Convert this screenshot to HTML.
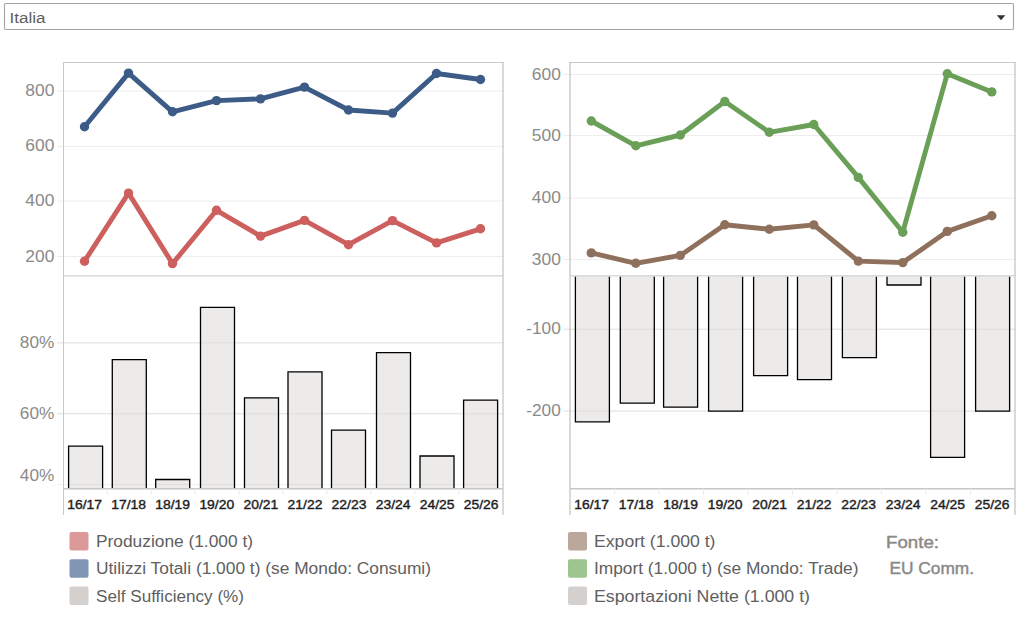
<!DOCTYPE html>
<html><head><meta charset="utf-8"><style>
html,body{margin:0;padding:0;background:#fff;width:1024px;height:617px;overflow:hidden}
svg{position:absolute;left:0;top:0}
text{font-family:"Liberation Sans", sans-serif}
.ax{font-size:17.4px;fill:#8a8a8a}
.xl{font-size:13px;fill:#1e1e1e;stroke:#1e1e1e;stroke-width:0.4px}
.lg{font-size:16px;fill:#606060}
.fo{font-size:17px;fill:#8a8a8a;stroke:#8a8a8a;stroke-width:0.45px}
.dd{font-size:14px;fill:#606060}
</style></head><body>
<svg width="1024" height="617" viewBox="0 0 1024 617">
<rect x="4.5" y="3.5" width="1009" height="26" rx="1.2" fill="#fff" stroke="#a4a4a4" stroke-width="1.1"/>
<text x="9.5" y="22.7" textLength="36" lengthAdjust="spacingAndGlyphs" class="dd">Italia</text>
<path d="M996.8 15.2 L1005.3 15.2 L1001.05 20.3 Z" fill="#333"/>
<line x1="57" y1="91" x2="503.0" y2="91" stroke="#ececec" stroke-width="1"/>
<line x1="57" y1="146.4" x2="503.0" y2="146.4" stroke="#ececec" stroke-width="1"/>
<line x1="57" y1="201.1" x2="503.0" y2="201.1" stroke="#ececec" stroke-width="1"/>
<line x1="57" y1="256.6" x2="503.0" y2="256.6" stroke="#ececec" stroke-width="1"/>
<line x1="57" y1="342.9" x2="503.0" y2="342.9" stroke="#ececec" stroke-width="1"/>
<line x1="57" y1="413.8" x2="503.0" y2="413.8" stroke="#ececec" stroke-width="1"/>
<line x1="564" y1="74.5" x2="1015.0" y2="74.5" stroke="#ececec" stroke-width="1"/>
<line x1="564" y1="135.6" x2="1015.0" y2="135.6" stroke="#ececec" stroke-width="1"/>
<line x1="564" y1="198.0" x2="1015.0" y2="198.0" stroke="#ececec" stroke-width="1"/>
<line x1="564" y1="259.5" x2="1015.0" y2="259.5" stroke="#ececec" stroke-width="1"/>
<line x1="564" y1="329.2" x2="1015.0" y2="329.2" stroke="#ececec" stroke-width="1"/>
<line x1="564" y1="411.1" x2="1015.0" y2="411.1" stroke="#ececec" stroke-width="1"/>
<rect x="68.60" y="446.00" width="34" height="42.50" fill="#ecebe9"/>
<path d="M68.60 487.90 V446.10 H102.60 V487.90" fill="none" stroke="#000" stroke-width="1.3"/>
<rect x="112.30" y="359.50" width="34" height="129.00" fill="#ecebe9"/>
<path d="M112.30 487.90 V359.60 H146.30 V487.90" fill="none" stroke="#000" stroke-width="1.3"/>
<rect x="155.70" y="479.40" width="34" height="9.10" fill="#ecebe9"/>
<path d="M155.70 487.90 V479.50 H189.70 V487.90" fill="none" stroke="#000" stroke-width="1.3"/>
<rect x="200.50" y="307.30" width="34" height="181.20" fill="#ecebe9"/>
<path d="M200.50 487.90 V307.40 H234.50 V487.90" fill="none" stroke="#000" stroke-width="1.3"/>
<rect x="244.50" y="397.80" width="34" height="90.70" fill="#ecebe9"/>
<path d="M244.50 487.90 V397.90 H278.50 V487.90" fill="none" stroke="#000" stroke-width="1.3"/>
<rect x="288.00" y="371.70" width="34" height="116.80" fill="#ecebe9"/>
<path d="M288.00 487.90 V371.80 H322.00 V487.90" fill="none" stroke="#000" stroke-width="1.3"/>
<rect x="331.50" y="430.00" width="34" height="58.50" fill="#ecebe9"/>
<path d="M331.50 487.90 V430.10 H365.50 V487.90" fill="none" stroke="#000" stroke-width="1.3"/>
<rect x="376.50" y="352.60" width="34" height="135.90" fill="#ecebe9"/>
<path d="M376.50 487.90 V352.70 H410.50 V487.90" fill="none" stroke="#000" stroke-width="1.3"/>
<rect x="420.00" y="455.90" width="34" height="32.60" fill="#ecebe9"/>
<path d="M420.00 487.90 V456.00 H454.00 V487.90" fill="none" stroke="#000" stroke-width="1.3"/>
<rect x="463.60" y="400.00" width="34" height="88.50" fill="#ecebe9"/>
<path d="M463.60 487.90 V400.10 H497.60 V487.90" fill="none" stroke="#000" stroke-width="1.3"/>
<rect x="575.40" y="275.50" width="34" height="146.30" fill="#ecebe9"/>
<path d="M575.40 276.50 V421.90 H609.40 V276.50" fill="none" stroke="#000" stroke-width="1.3"/>
<rect x="620.30" y="275.50" width="34" height="127.60" fill="#ecebe9"/>
<path d="M620.30 276.50 V403.20 H654.30 V276.50" fill="none" stroke="#000" stroke-width="1.3"/>
<rect x="663.60" y="275.50" width="34" height="131.50" fill="#ecebe9"/>
<path d="M663.60 276.50 V407.10 H697.60 V276.50" fill="none" stroke="#000" stroke-width="1.3"/>
<rect x="708.60" y="275.50" width="34" height="135.60" fill="#ecebe9"/>
<path d="M708.60 276.50 V411.20 H742.60 V276.50" fill="none" stroke="#000" stroke-width="1.3"/>
<rect x="753.60" y="275.50" width="34" height="100.00" fill="#ecebe9"/>
<path d="M753.60 276.50 V375.60 H787.60 V276.50" fill="none" stroke="#000" stroke-width="1.3"/>
<rect x="797.50" y="275.50" width="34" height="104.10" fill="#ecebe9"/>
<path d="M797.50 276.50 V379.70 H831.50 V276.50" fill="none" stroke="#000" stroke-width="1.3"/>
<rect x="842.40" y="275.50" width="34" height="82.10" fill="#ecebe9"/>
<path d="M842.40 276.50 V357.70 H876.40 V276.50" fill="none" stroke="#000" stroke-width="1.3"/>
<rect x="887.00" y="275.50" width="34" height="9.40" fill="#ecebe9"/>
<path d="M887.00 276.50 V285.00 H921.00 V276.50" fill="none" stroke="#000" stroke-width="1.3"/>
<rect x="930.60" y="275.50" width="34" height="181.70" fill="#ecebe9"/>
<path d="M930.60 276.50 V457.30 H964.60 V276.50" fill="none" stroke="#000" stroke-width="1.3"/>
<rect x="975.60" y="275.50" width="34" height="135.60" fill="#ecebe9"/>
<path d="M975.60 276.50 V411.20 H1009.60 V276.50" fill="none" stroke="#000" stroke-width="1.3"/>
<line x1="57" y1="342.9" x2="503.0" y2="342.9" stroke="rgba(0,0,0,0.06)" stroke-width="1"/>
<line x1="57" y1="413.8" x2="503.0" y2="413.8" stroke="rgba(0,0,0,0.06)" stroke-width="1"/>
<line x1="57" y1="484.6" x2="503.0" y2="484.6" stroke="rgba(0,0,0,0.06)" stroke-width="1"/>
<line x1="564" y1="329.2" x2="1015.0" y2="329.2" stroke="rgba(0,0,0,0.06)" stroke-width="1"/>
<line x1="564" y1="411.1" x2="1015.0" y2="411.1" stroke="rgba(0,0,0,0.06)" stroke-width="1"/>
<line x1="63.5" y1="62.5" x2="503.0" y2="62.5" stroke="#c9c9c9" stroke-width="1"/>
<line x1="63.5" y1="62.0" x2="63.5" y2="515" stroke="#c9c9c9" stroke-width="1"/>
<line x1="503.0" y1="62.0" x2="503.0" y2="515" stroke="#b4b4b4" stroke-width="1"/>
<line x1="63.5" y1="275.9" x2="503.0" y2="275.9" stroke="#d2d2d2" stroke-width="1.4"/>
<line x1="63.5" y1="488.75" x2="503.0" y2="488.75" stroke="#c6c6c6" stroke-width="1.3"/>
<line x1="570.0" y1="62.5" x2="1015.0" y2="62.5" stroke="#c9c9c9" stroke-width="1"/>
<line x1="570.0" y1="62.0" x2="570.0" y2="515" stroke="#b4b4b4" stroke-width="1"/>
<line x1="1015.0" y1="62.0" x2="1015.0" y2="515" stroke="#b4b4b4" stroke-width="1"/>
<line x1="570.0" y1="275.9" x2="1015.0" y2="275.9" stroke="#d2d2d2" stroke-width="1.4"/>
<line x1="570.0" y1="488.75" x2="1015.0" y2="488.75" stroke="#c6c6c6" stroke-width="1.3"/>
<line x1="107.4" y1="488.5" x2="107.4" y2="494.5" stroke="#eaeaea" stroke-width="1"/>
<line x1="614.5" y1="488.5" x2="614.5" y2="494.5" stroke="#eaeaea" stroke-width="1"/>
<line x1="151.3" y1="488.5" x2="151.3" y2="494.5" stroke="#eaeaea" stroke-width="1"/>
<line x1="659.0" y1="488.5" x2="659.0" y2="494.5" stroke="#eaeaea" stroke-width="1"/>
<line x1="195.2" y1="488.5" x2="195.2" y2="494.5" stroke="#eaeaea" stroke-width="1"/>
<line x1="703.5" y1="488.5" x2="703.5" y2="494.5" stroke="#eaeaea" stroke-width="1"/>
<line x1="239.1" y1="488.5" x2="239.1" y2="494.5" stroke="#eaeaea" stroke-width="1"/>
<line x1="748.0" y1="488.5" x2="748.0" y2="494.5" stroke="#eaeaea" stroke-width="1"/>
<line x1="283.0" y1="488.5" x2="283.0" y2="494.5" stroke="#eaeaea" stroke-width="1"/>
<line x1="792.5" y1="488.5" x2="792.5" y2="494.5" stroke="#eaeaea" stroke-width="1"/>
<line x1="326.9" y1="488.5" x2="326.9" y2="494.5" stroke="#eaeaea" stroke-width="1"/>
<line x1="837.0" y1="488.5" x2="837.0" y2="494.5" stroke="#eaeaea" stroke-width="1"/>
<line x1="370.8" y1="488.5" x2="370.8" y2="494.5" stroke="#eaeaea" stroke-width="1"/>
<line x1="881.5" y1="488.5" x2="881.5" y2="494.5" stroke="#eaeaea" stroke-width="1"/>
<line x1="414.7" y1="488.5" x2="414.7" y2="494.5" stroke="#eaeaea" stroke-width="1"/>
<line x1="926.0" y1="488.5" x2="926.0" y2="494.5" stroke="#eaeaea" stroke-width="1"/>
<line x1="458.6" y1="488.5" x2="458.6" y2="494.5" stroke="#eaeaea" stroke-width="1"/>
<line x1="970.5" y1="488.5" x2="970.5" y2="494.5" stroke="#eaeaea" stroke-width="1"/>
<polyline points="84.5,261.2 128.5,193.1 172.5,263.6 216.5,210.3 260.5,236.1 304.5,220.4 348.5,244.7 392.5,220.6 436.5,242.9 480.5,228.8" fill="none" stroke="#cd5f5e" stroke-width="4.9" stroke-linejoin="round"/>
<circle cx="84.5" cy="261.2" r="4.7" fill="#cd5f5e"/>
<circle cx="128.5" cy="193.1" r="4.7" fill="#cd5f5e"/>
<circle cx="172.5" cy="263.6" r="4.7" fill="#cd5f5e"/>
<circle cx="216.5" cy="210.3" r="4.7" fill="#cd5f5e"/>
<circle cx="260.5" cy="236.1" r="4.7" fill="#cd5f5e"/>
<circle cx="304.5" cy="220.4" r="4.7" fill="#cd5f5e"/>
<circle cx="348.5" cy="244.7" r="4.7" fill="#cd5f5e"/>
<circle cx="392.5" cy="220.6" r="4.7" fill="#cd5f5e"/>
<circle cx="436.5" cy="242.9" r="4.7" fill="#cd5f5e"/>
<circle cx="480.5" cy="228.8" r="4.7" fill="#cd5f5e"/>
<polyline points="84.5,126.8 128.5,73.1 172.5,111.8 216.5,100.6 260.5,98.9 304.5,87.1 348.5,110.0 392.5,113.1 436.5,73.5 480.5,79.5" fill="none" stroke="#3d5b87" stroke-width="4.9" stroke-linejoin="round"/>
<circle cx="84.5" cy="126.8" r="4.7" fill="#3d5b87"/>
<circle cx="128.5" cy="73.1" r="4.7" fill="#3d5b87"/>
<circle cx="172.5" cy="111.8" r="4.7" fill="#3d5b87"/>
<circle cx="216.5" cy="100.6" r="4.7" fill="#3d5b87"/>
<circle cx="260.5" cy="98.9" r="4.7" fill="#3d5b87"/>
<circle cx="304.5" cy="87.1" r="4.7" fill="#3d5b87"/>
<circle cx="348.5" cy="110.0" r="4.7" fill="#3d5b87"/>
<circle cx="392.5" cy="113.1" r="4.7" fill="#3d5b87"/>
<circle cx="436.5" cy="73.5" r="4.7" fill="#3d5b87"/>
<circle cx="480.5" cy="79.5" r="4.7" fill="#3d5b87"/>
<polyline points="591.3,252.9 635.8,263.3 680.3,255.4 724.8,224.8 769.3,229.2 813.8,224.9 858.3,261.1 902.8,262.6 947.3,231.4 991.8,215.8" fill="none" stroke="#8e705c" stroke-width="4.9" stroke-linejoin="round"/>
<circle cx="591.3" cy="252.9" r="4.7" fill="#8e705c"/>
<circle cx="635.8" cy="263.3" r="4.7" fill="#8e705c"/>
<circle cx="680.3" cy="255.4" r="4.7" fill="#8e705c"/>
<circle cx="724.8" cy="224.8" r="4.7" fill="#8e705c"/>
<circle cx="769.3" cy="229.2" r="4.7" fill="#8e705c"/>
<circle cx="813.8" cy="224.9" r="4.7" fill="#8e705c"/>
<circle cx="858.3" cy="261.1" r="4.7" fill="#8e705c"/>
<circle cx="902.8" cy="262.6" r="4.7" fill="#8e705c"/>
<circle cx="947.3" cy="231.4" r="4.7" fill="#8e705c"/>
<circle cx="991.8" cy="215.8" r="4.7" fill="#8e705c"/>
<polyline points="591.3,121.0 635.8,145.8 680.3,135.0 724.8,101.5 769.3,132.3 813.8,124.5 858.3,177.4 902.8,232.2 947.3,73.7 991.8,91.9" fill="none" stroke="#6a9f58" stroke-width="4.9" stroke-linejoin="round"/>
<circle cx="591.3" cy="121.0" r="4.7" fill="#6a9f58"/>
<circle cx="635.8" cy="145.8" r="4.7" fill="#6a9f58"/>
<circle cx="680.3" cy="135.0" r="4.7" fill="#6a9f58"/>
<circle cx="724.8" cy="101.5" r="4.7" fill="#6a9f58"/>
<circle cx="769.3" cy="132.3" r="4.7" fill="#6a9f58"/>
<circle cx="813.8" cy="124.5" r="4.7" fill="#6a9f58"/>
<circle cx="858.3" cy="177.4" r="4.7" fill="#6a9f58"/>
<circle cx="902.8" cy="232.2" r="4.7" fill="#6a9f58"/>
<circle cx="947.3" cy="73.7" r="4.7" fill="#6a9f58"/>
<circle cx="991.8" cy="91.9" r="4.7" fill="#6a9f58"/>
<text x="25.3" y="96" textLength="29.0" lengthAdjust="spacingAndGlyphs" class="ax">800</text>
<text x="25.3" y="151.4" textLength="29.0" lengthAdjust="spacingAndGlyphs" class="ax">600</text>
<text x="25.3" y="206.1" textLength="29.0" lengthAdjust="spacingAndGlyphs" class="ax">400</text>
<text x="25.3" y="261.6" textLength="29.0" lengthAdjust="spacingAndGlyphs" class="ax">200</text>
<text x="19.8" y="347.9" textLength="34.5" lengthAdjust="spacingAndGlyphs" class="ax">80%</text>
<text x="19.8" y="418.8" textLength="34.5" lengthAdjust="spacingAndGlyphs" class="ax">60%</text>
<text x="19.8" y="481.3" textLength="34.5" lengthAdjust="spacingAndGlyphs" class="ax">40%</text>
<text x="531.8" y="79.5" textLength="29.0" lengthAdjust="spacingAndGlyphs" class="ax">600</text>
<text x="531.8" y="140.6" textLength="29.0" lengthAdjust="spacingAndGlyphs" class="ax">500</text>
<text x="531.8" y="203.0" textLength="29.0" lengthAdjust="spacingAndGlyphs" class="ax">400</text>
<text x="531.8" y="264.5" textLength="29.0" lengthAdjust="spacingAndGlyphs" class="ax">300</text>
<text x="526.3" y="334.2" textLength="34.5" lengthAdjust="spacingAndGlyphs" class="ax">-100</text>
<text x="526.3" y="416.1" textLength="34.5" lengthAdjust="spacingAndGlyphs" class="ax">-200</text>
<text x="67.2" y="509" textLength="34.8" lengthAdjust="spacingAndGlyphs" class="xl">16/17</text>
<text x="574.2" y="509" textLength="34.8" lengthAdjust="spacingAndGlyphs" class="xl">16/17</text>
<text x="111.3" y="509" textLength="34.8" lengthAdjust="spacingAndGlyphs" class="xl">17/18</text>
<text x="618.7" y="509" textLength="34.8" lengthAdjust="spacingAndGlyphs" class="xl">17/18</text>
<text x="155.3" y="509" textLength="34.8" lengthAdjust="spacingAndGlyphs" class="xl">18/19</text>
<text x="663.2" y="509" textLength="34.8" lengthAdjust="spacingAndGlyphs" class="xl">18/19</text>
<text x="199.4" y="509" textLength="34.8" lengthAdjust="spacingAndGlyphs" class="xl">19/20</text>
<text x="707.7" y="509" textLength="34.8" lengthAdjust="spacingAndGlyphs" class="xl">19/20</text>
<text x="243.5" y="509" textLength="34.8" lengthAdjust="spacingAndGlyphs" class="xl">20/21</text>
<text x="752.2" y="509" textLength="34.8" lengthAdjust="spacingAndGlyphs" class="xl">20/21</text>
<text x="287.6" y="509" textLength="34.8" lengthAdjust="spacingAndGlyphs" class="xl">21/22</text>
<text x="796.7" y="509" textLength="34.8" lengthAdjust="spacingAndGlyphs" class="xl">21/22</text>
<text x="331.6" y="509" textLength="34.8" lengthAdjust="spacingAndGlyphs" class="xl">22/23</text>
<text x="841.2" y="509" textLength="34.8" lengthAdjust="spacingAndGlyphs" class="xl">22/23</text>
<text x="375.7" y="509" textLength="34.8" lengthAdjust="spacingAndGlyphs" class="xl">23/24</text>
<text x="885.7" y="509" textLength="34.8" lengthAdjust="spacingAndGlyphs" class="xl">23/24</text>
<text x="419.8" y="509" textLength="34.8" lengthAdjust="spacingAndGlyphs" class="xl">24/25</text>
<text x="930.2" y="509" textLength="34.8" lengthAdjust="spacingAndGlyphs" class="xl">24/25</text>
<text x="463.8" y="509" textLength="34.8" lengthAdjust="spacingAndGlyphs" class="xl">25/26</text>
<text x="974.7" y="509" textLength="34.8" lengthAdjust="spacingAndGlyphs" class="xl">25/26</text>
<rect x="69.5" y="532.0" width="19" height="18.5" rx="2" fill="#dc999a"/>
<text x="96" y="547.1" textLength="157" lengthAdjust="spacingAndGlyphs" class="lg">Produzione (1.000 t)</text>
<rect x="69.5" y="559.2" width="19" height="18.5" rx="2" fill="#8096b4"/>
<text x="96" y="574.3" textLength="335" lengthAdjust="spacingAndGlyphs" class="lg">Utilizzi Totali (1.000 t) (se Mondo: Consumi)</text>
<rect x="69.5" y="586.4" width="19" height="18.5" rx="2" fill="#d4d0ce"/>
<text x="96" y="601.5" textLength="148" lengthAdjust="spacingAndGlyphs" class="lg">Self Sufficiency (%)</text>
<rect x="568" y="532.0" width="19" height="18.5" rx="2" fill="#bca89b"/>
<text x="594" y="547.1" textLength="121.5" lengthAdjust="spacingAndGlyphs" class="lg">Export (1.000 t)</text>
<rect x="568" y="559.2" width="19" height="18.5" rx="2" fill="#9dc58f"/>
<text x="594" y="574.3" textLength="264.5" lengthAdjust="spacingAndGlyphs" class="lg">Import (1.000 t) (se Mondo: Trade)</text>
<rect x="568" y="586.4" width="19" height="18.5" rx="2" fill="#d4d0ce"/>
<text x="594" y="601.5" textLength="216" lengthAdjust="spacingAndGlyphs" class="lg">Esportazioni Nette (1.000 t)</text>
<text x="886" y="548" textLength="53" lengthAdjust="spacingAndGlyphs" class="fo">Fonte:</text>
<text x="889.5" y="574" textLength="84.5" lengthAdjust="spacingAndGlyphs" class="fo">EU Comm.</text>
</svg>
</body></html>
